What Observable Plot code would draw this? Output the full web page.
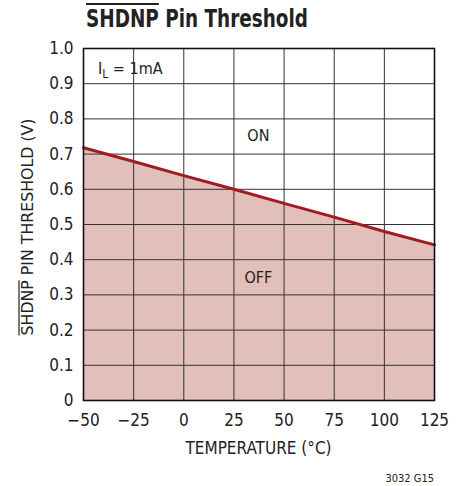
<!DOCTYPE html>
<html>
<head>
<meta charset="utf-8">
<script src="https://cdn.jsdelivr.net/npm/d3@7"></script>
<script src="https://cdn.jsdelivr.net/npm/@observablehq/plot@0.6"></script>
<style>
  body { margin: 0; background: #fff; }
</style>
</head>
<body>
<div id="chart"></div>
<script>
const temperature = [-50, -25, 0, 25, 50, 75, 100, 125];
const threshold = [0.718, 0.679, 0.639, 0.600, 0.560, 0.521, 0.480, 0.442];
const xTicks = [-50, -25, 0, 25, 50, 75, 100, 125];
const yTicks = [0, 0.1, 0.2, 0.3, 0.4, 0.5, 0.6, 0.7, 0.8, 0.9, 1.0];
const labels = [
  {x: 37.2, y: 0.753, text: "ON"},
  {x: 37.2, y: 0.347, text: "OFF"}
];

const data = temperature.map((t, i) => ({t, v: threshold[i]}));
const font = "'DejaVu Sans Condensed', 'Liberation Sans Narrow', sans-serif";

const plot = Plot.plot({
  width: 466,
  height: 486,
  marginLeft: 83,
  marginRight: 32,
  marginTop: 48,
  marginBottom: 86,
  style: {fontFamily: font, background: "#fff"},
  x: {domain: [-50, 125], ticks: xTicks},
  y: {domain: [0, 1], ticks: yTicks},
  marks: [
    Plot.areaY(data, {x: "t", y: "v", fill: "#e3bfbb"}),
    Plot.gridX(xTicks, {stroke: "#333", strokeOpacity: 1, strokeWidth: 1}),
    Plot.gridY(yTicks, {stroke: "#333", strokeOpacity: 1, strokeWidth: 1}),
    Plot.line(data, {x: "t", y: "v", stroke: "#a01c22", strokeWidth: 3}),
    Plot.frame({stroke: "#111", strokeWidth: 1.6}),
    Plot.axisX(xTicks, {tickSize: 0, tickPadding: 0, dy: 13, fontSize: 17, fill: "#222", label: null,
      tickFormat: d => d3.format("")(d).replace("-", "\u2013")}),
    Plot.axisY(yTicks, {tickSize: 0, tickPadding: 10, fontSize: 17, fill: "#222", label: null,
      tickFormat: d => d === 0 ? "0" : d.toFixed(1)}),
    Plot.text(labels, {x: "x", y: "y", text: "text", fontSize: 16, fill: "#222"})
  ]
});

document.getElementById("chart").appendChild(plot);
const svg = d3.select(plot);
const sx = plot.scale("x"), sy = plot.scale("y");

// Title
const title = svg.append("text")
  .attr("x", 86).attr("y", 27)
  .attr("text-anchor", "start")
  .attr("textLength", 222).attr("lengthAdjust", "spacingAndGlyphs")
  .attr("font-size", 25).attr("font-weight", "bold").attr("fill", "#222")
  .text("SHDNP Pin Threshold");
{
  const n = title.node();
  const w = n.getSubStringLength(0, 5);
  svg.append("line").attr("x1", 86).attr("x2", 86 + w)
    .attr("y1", 4).attr("y2", 4).attr("stroke", "#222").attr("stroke-width", 2);
}

// I_L annotation
const il = svg.append("text")
  .attr("x", 98).attr("y", sy.apply(0.925))
  .attr("text-anchor", "start")
  .attr("font-size", 16).attr("fill", "#222");
il.append("tspan").text("I");
il.append("tspan").attr("font-size", 12).attr("dy", 4).text("L");
il.append("tspan").attr("dy", -4).text(" = 1mA");

// Y axis label
const yc = (sy.apply(0) + sy.apply(1)) / 2 + 3;
const yl = svg.append("text")
  .attr("transform", `translate(33,${yc}) rotate(-90)`)
  .attr("text-anchor", "middle")
  .attr("textLength", 217).attr("lengthAdjust", "spacingAndGlyphs")
  .attr("font-size", 16).attr("fill", "#222")
  .text("SHDNP PIN THRESHOLD (V)");
{
  const w = yl.node().getSubStringLength(0, 5);
  const start = -217 / 2;
  svg.append("line")
    .attr("transform", `translate(33,${yc}) rotate(-90)`)
    .attr("x1", start).attr("x2", start + w)
    .attr("y1", -14).attr("y2", -14)
    .attr("stroke", "#222").attr("stroke-width", 1.2);
}

// X axis label
svg.append("text")
  .attr("x", (sx.apply(-50) + sx.apply(125)) / 2).attr("y", 454)
  .attr("text-anchor", "middle").attr("font-size", 17).attr("fill", "#222")
  .text("TEMPERATURE (\u00B0C)");

// Figure code
svg.append("text")
  .attr("x", 434).attr("y", 482)
  .attr("text-anchor", "end").attr("font-size", 11).attr("fill", "#222")
  .text("3032 G15");
</script>
</body>
</html>
